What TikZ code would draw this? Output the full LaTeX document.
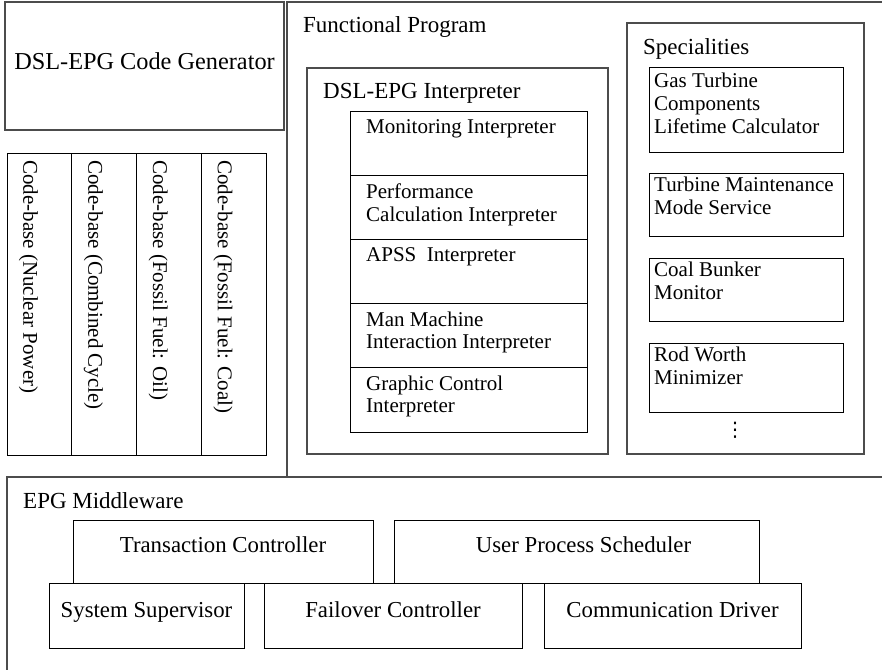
\documentclass[tikz,border=0pt]{standalone}
\usepackage{fontspec}
\setmainfont{Liberation Serif}
\newfontfamily\dotsfont{DejaVu Sans}
\usetikzlibrary{calc}
\begin{document}
\begin{tikzpicture}[x=1pt,y=-1pt,
  outerbox/.style={draw=black!70, line width=1.3pt, rectangle, inner sep=0pt, outer sep=0pt, anchor=north west},
  innerbox/.style={draw=black, line width=1pt, rectangle, inner sep=0pt, outer sep=0pt, anchor=north west},
  head/.style={inner sep=0pt, anchor=base west, font=\fontsize{23}{26}\selectfont},
  midtxt/.style={inner sep=0pt, anchor=base, font=\fontsize{22.8}{26}\selectfont},
  txt/.style={inner sep=0pt, anchor=base west, font=\fontsize{21}{22.5}\selectfont},
  sptxt/.style={inner sep=0pt, anchor=base west, font=\fontsize{21}{23}\selectfont}
]
\useasboundingbox (0,0) rectangle (882,669);
\clip (0,0) rectangle (882,669);

% ---------------- left column ----------------
\node[outerbox, minimum width=279pt, minimum height=128pt] (gen) at (5,2) {};
\node[head, anchor=base, font=\fontsize{24.3}{28}\selectfont] (gent) at ($(gen.north)+(0,68)$) {DSL-EPG Code Generator};

\foreach \i/\nm/\lab in {0/cba/{Code-base (Nuclear Power)},1/cbb/{Code-base (Combined Cycle)},2/cbc/{Code-base (Fossil Fuel: Oil)},3/cbd/{Code-base (Fossil Fuel: Coal)}}{
  \node[innerbox, minimum width=64.75pt, minimum height=302pt] (\nm) at ({7+64.75*\i},153) {};
  \node[txt, rotate=-90, anchor=base west] (\nm t) at ($(\nm.north west)+(16.5,7)$) {\lab};
}

% ---------------- functional program ----------------
\node[outerbox, minimum width=650pt, minimum height=475pt] (fp) at (287,2) {};
\node[head] (fpt) at ($(fp.north west)+(16,31)$) {Functional Program};

\node[outerbox, minimum width=301pt, minimum height=386pt] (intp) at (307,68) {};
\node[head] (intpt) at ($(intp.north west)+(16,30)$) {DSL-EPG Interpreter};

\node[innerbox, minimum width=237pt, minimum height=64.2pt] (r1) at (350,111) {};
\node[innerbox, minimum width=237pt, minimum height=64.2pt] (r2) at (r1.south west) {};
\node[innerbox, minimum width=237pt, minimum height=64.2pt] (r3) at (r2.south west) {};
\node[innerbox, minimum width=237pt, minimum height=64.2pt] (r4) at (r3.south west) {};
\node[innerbox, minimum width=237pt, minimum height=64.2pt] (r5) at (r4.south west) {};
\node[txt] (r1t) at ($(r1.north west)+(16,22.5)$) {Monitoring Interpreter};
\node[txt] (r2t) at ($(r2.north west)+(16,23.5)$) {\begin{tabular}[t]{@{}l@{}}Performance\\Calculation Interpreter\end{tabular}};
\node[txt] (r3t) at ($(r3.north west)+(16,22.5)$) {APSS\ \ Interpreter};
\node[txt] (r4t) at ($(r4.north west)+(16,22.5)$) {\begin{tabular}[t]{@{}l@{}}Man Machine\\Interaction Interpreter\end{tabular}};
\node[txt] (r5t) at ($(r5.north west)+(16,22.5)$) {\begin{tabular}[t]{@{}l@{}}Graphic Control\\Interpreter\end{tabular}};

\node[outerbox, minimum width=237pt, minimum height=431pt] (spec) at (627,23) {};
\node[head] (spect) at ($(spec.north west)+(16,32)$) {Specialities};

\node[innerbox, minimum width=194pt, minimum height=85pt] (s1) at (649,67) {};
\node[innerbox, minimum width=194pt, minimum height=63pt] (s2) at (649,173) {};
\node[innerbox, minimum width=194pt, minimum height=63pt] (s3) at (649,258) {};
\node[innerbox, minimum width=194pt, minimum height=69pt] (s4) at (649,343) {};
\node[sptxt] (s1t) at ($(s1.north west)+(5,20)$) {\begin{tabular}[t]{@{}l@{}}Gas Turbine\\Components\\Lifetime Calculator\end{tabular}};
\node[sptxt] (s2t) at ($(s2.north west)+(5,18)$) {\begin{tabular}[t]{@{}l@{}}Turbine Maintenance\\Mode Service\end{tabular}};
\node[sptxt] (s3t) at ($(s3.north west)+(5,18)$) {\begin{tabular}[t]{@{}l@{}}Coal Bunker\\Monitor\end{tabular}};
\node[sptxt] (s4t) at ($(s4.north west)+(5,18)$) {\begin{tabular}[t]{@{}l@{}}Rod Worth\\Minimizer\end{tabular}};
\node[inner sep=0pt, anchor=center, font=\dotsfont\fontsize{20}{22}\selectfont] (dots) at (735,430) {⋮};

% ---------------- middleware ----------------
\node[outerbox, minimum width=900pt, minimum height=250pt] (mw) at (7,477) {};
\node[head] (mwt) at ($(mw.north west)+(16,31)$) {EPG Middleware};

\node[innerbox, minimum width=300pt, minimum height=63pt] (tc) at (73,520) {};
\node[innerbox, minimum width=365pt, minimum height=63pt] (ups) at (394,520) {};
\node[innerbox, minimum width=195pt, minimum height=65pt] (ss) at (49,583) {};
\node[innerbox, minimum width=258pt, minimum height=65pt] (fc) at (264,583) {};
\node[innerbox, minimum width=257pt, minimum height=65pt] (cd) at (544,583) {};
\node[midtxt] (tct) at ($(tc.north)+(0,32)$) {Transaction Controller};
\node[midtxt] (upst) at ($(ups.north)+(7,32)$) {User Process Scheduler};
\node[midtxt] (sst) at ($(ss.north)+(0,34)$) {System Supervisor};
\node[midtxt] (fct) at ($(fc.north)+(0,34)$) {Failover Controller};
\node[midtxt] (cdt) at ($(cd.north)+(0,34)$) {Communication Driver};
\end{tikzpicture}
\end{document}
